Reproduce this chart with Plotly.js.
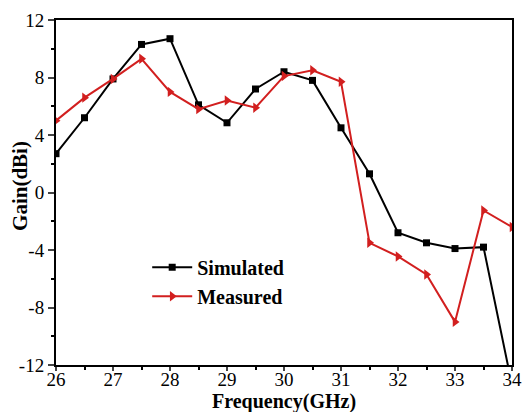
<!DOCTYPE html>
<html><head><meta charset="utf-8">
<script src="https://cdn.plot.ly/plotly-3.0.1.min.js"></script>
<style>html,body{margin:0;padding:0;background:#fff}#c{width:525px;height:412px}</style>
</head><body><div id="c"></div>
<script>
const freq = [26,26.5,27,27.5,28,28.5,29,29.5,30,30.5,31,31.5,32,32.5,33,33.5,34];
const simulated = [2.7,5.2,7.9,10.3,10.7,6.1,4.85,7.2,8.4,7.8,4.5,1.3,-2.8,-3.5,-3.9,-3.8,-13.4];
const measured = [5.0,6.6,7.9,9.3,7.0,5.8,6.4,5.9,8.1,8.5,7.7,-3.5,-4.45,-5.7,-9.0,-1.25,-2.4];
const xTicks = [26,27,28,29,30,31,32,33,34];
const yTicks = [-12,-8,-4,0,4,8,12];
const xTitle = 'Frequency(GHz)';
const yTitle = 'Gain(dBi)';

const font = {family:'Liberation Serif, Times New Roman, serif', color:'#000'};
const traces = [
 {x:freq, y:simulated, name:'Simulated', mode:'lines+markers', line:{color:'#000',width:2},
  marker:{symbol:'square',size:7,color:'#000'}},
 {x:freq, y:measured, name:'Measured', mode:'lines+markers', line:{color:'#d21f1f',width:2},
  marker:{symbol:'triangle-right',size:9,color:'#d21f1f'}}
];
const layout = {
 width:525, height:412, margin:{l:56,r:13,t:20,b:47},
 paper_bgcolor:'#fff', plot_bgcolor:'#fff', showlegend:true,
 font:Object.assign({size:18},font),
 xaxis:{range:[26,34], tickvals:xTicks, ticktext:xTicks.map(String), ticks:'outside', ticklen:4, tickwidth:2,
   ticklabelposition:'outside', ticklabelstandoff:-8,
   showline:true, linewidth:2, linecolor:'#000', mirror:true, showgrid:false, zeroline:false,
   minor:{dtick:0.5, ticks:'outside', ticklen:3, tickwidth:2, tickcolor:'#000'},
   tickfont:Object.assign({size:19},font)},
 yaxis:{range:[-12,12], tickvals:yTicks, ticktext:yTicks.map(String), ticks:'outside', ticklen:6, tickwidth:2,
   showline:true, linewidth:2, linecolor:'#000', mirror:true, showgrid:false, zeroline:false,
   minor:{dtick:2, ticks:'outside', ticklen:3, tickwidth:2, tickcolor:'#000'},
   tickfont:Object.assign({size:19},font)},
 annotations:[
  {text:'<b>'+xTitle+'</b>', xref:'paper', yref:'paper', x:0.5, y:-0.105,
   xanchor:'center', yanchor:'middle', showarrow:false, borderpad:0, font:Object.assign({size:20},font)},
  {text:'<b>'+yTitle+'</b>', xref:'paper', yref:'paper', x:-0.079, y:0.519, textangle:-90,
   xanchor:'center', yanchor:'middle', showarrow:false, borderpad:0, font:Object.assign({size:21},font)}
 ],
 legend:{x:0.2, y:0.34, xanchor:'left', yanchor:'top', bgcolor:'rgba(0,0,0,0)',
   font:Object.assign({size:20, weight:'bold'},font), itemwidth:40, tracegroupgap:0}
};
Plotly.newPlot('c', traces, layout, {displayModeBar:false, staticPlot:true});
</script></body></html>
